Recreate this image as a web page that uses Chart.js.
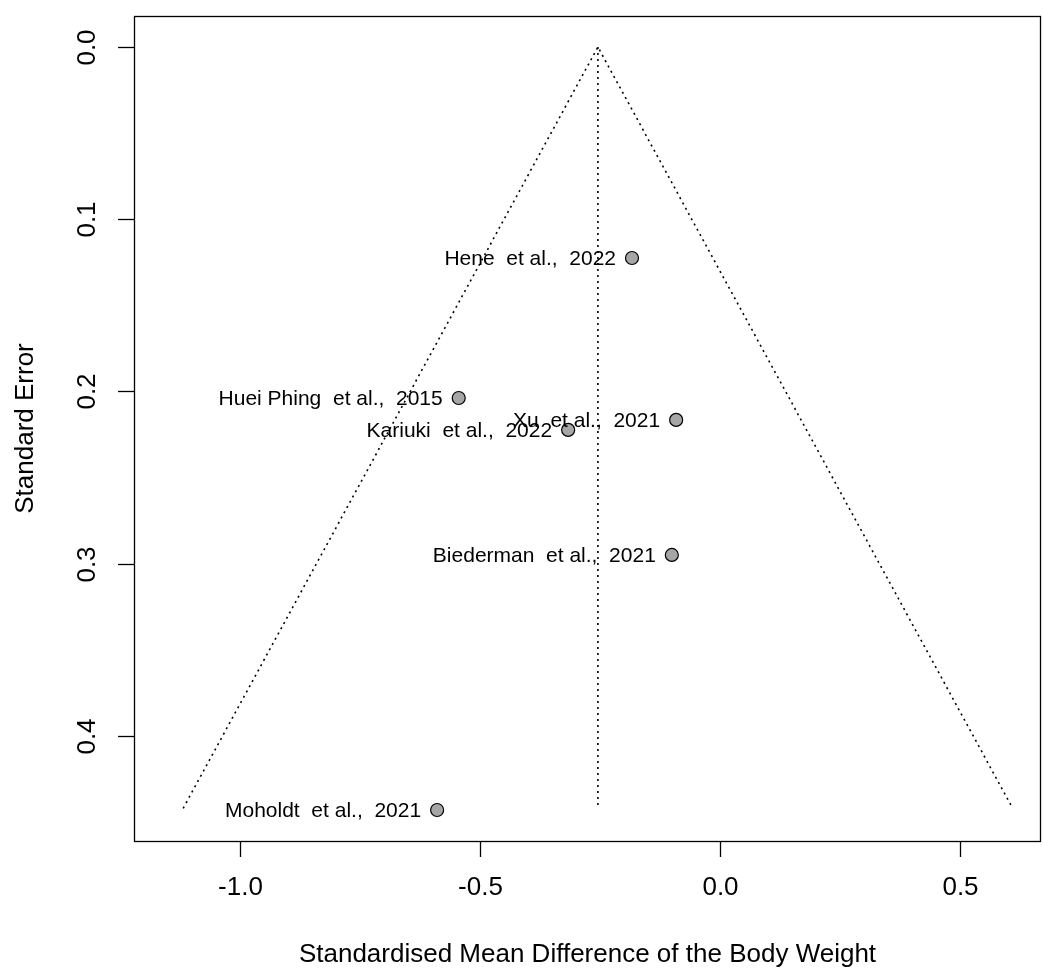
<!DOCTYPE html>
<html>
<head>
<meta charset="utf-8">
<script src="https://cdn.jsdelivr.net/npm/chart.js@4/dist/chart.umd.min.js"></script>
<style>
html,body{margin:0;padding:0;background:#fff;overflow:hidden;width:1043px;height:968px;}
canvas{display:block;width:1043px;height:968px;}
</style>
</head>
<body>
<canvas id="c" width="1043" height="968"></canvas>
<script>
// ---- data ----
const studyLabels = ["Hene  et al.,  2022", "Huei Phing  et al.,  2015", "Xu  et al.,  2021", "Kariuki  et al.,  2022", "Biederman  et al.,  2021", "Moholdt  et al.,  2021"];
const smd = [-0.184, -0.545, -0.092, -0.317, -0.101, -0.590];
const se = [0.1225, 0.2038, 0.2165, 0.2223, 0.2949, 0.443];
const pooledEstimate = -0.255;
const funnelX = [-1.119, -0.255, 0.609];
const funnelY = [0.442, 0.0, 0.442];
const refLineX = [-0.255, -0.255];
const refLineY = [0.0, 0.442];
const xTickValues = [-1.0, -0.5, 0.0, 0.5];
const xTickLabels = ["-1.0", "-0.5", "0.0", "0.5"];
const yTickValues = [0.0, 0.1, 0.2, 0.3, 0.4];
const yTickLabels = ["0.0", "0.1", "0.2", "0.3", "0.4"];
const xTitle = "Standardised Mean Difference of the Body Weight";
const yTitle = "Standard Error";

const FONT = "'Liberation Sans', Arial, Helvetica, sans-serif";

const toPts = (xs, ys) => xs.map((x, i) => ({x: x, y: ys[i]}));

const decorPlugin = {
  id: 'decor',
  afterDatasetsDraw(chart) {
    const ctx = chart.ctx;
    const xs = chart.scales.x, ys = chart.scales.y;
    const a = chart.chartArea;
    ctx.save();
    // study labels
    ctx.fillStyle = '#000';
    ctx.font = '21px ' + FONT;
    ctx.textAlign = 'right';
    ctx.textBaseline = 'middle';
    studyLabels.forEach((lab, i) => {
      const px = xs.getPixelForValue(smd[i]);
      const py = ys.getPixelForValue(se[i]);
      ctx.fillText(lab, px - 16, py + 1);
    });
    // box
    ctx.strokeStyle = '#000';
    ctx.lineWidth = 1.3;
    ctx.setLineDash([]);
    ctx.strokeRect(Math.round(a.left) + 0.5, Math.round(a.top) + 0.5, Math.round(a.right - a.left) - 1, Math.round(a.bottom - a.top));
    // x ticks
    ctx.font = '26px ' + FONT;
    ctx.textAlign = 'center';
    ctx.textBaseline = 'middle';
    xTickValues.forEach((v, i) => {
      const px = Math.round(xs.getPixelForValue(v)) + 0.5;
      ctx.beginPath();
      ctx.moveTo(px, a.bottom);
      ctx.lineTo(px, a.bottom + 16);
      ctx.stroke();
      ctx.fillText(xTickLabels[i], px, a.bottom + 47);
    });
    // y ticks
    yTickValues.forEach((v, i) => {
      const py = Math.round(ys.getPixelForValue(v)) + 0.5;
      ctx.beginPath();
      ctx.moveTo(a.left, py);
      ctx.lineTo(a.left - 16, py);
      ctx.stroke();
      ctx.save();
      ctx.translate(a.left - 46, py);
      ctx.rotate(-Math.PI / 2);
      ctx.fillText(yTickLabels[i], 0, 0);
      ctx.restore();
    });
    // titles
    ctx.fillText(xTitle, (a.left + a.right) / 2, 955);
    ctx.save();
    ctx.translate(26, (a.top + a.bottom) / 2);
    ctx.rotate(-Math.PI / 2);
    ctx.fillText(yTitle, 0, 0);
    ctx.restore();
    ctx.restore();
  }
};

new Chart(document.getElementById('c'), {
  type: 'scatter',
  data: {
    datasets: [
      {
        label: 'funnel',
        data: toPts(funnelX, funnelY),
        showLine: true,
        borderColor: '#000',
        borderWidth: 1.6,
        borderDash: [2, 4],
        pointRadius: 0,
        fill: false,
        order: 3
      },
      {
        label: 'estimate',
        data: toPts(refLineX, refLineY),
        showLine: true,
        borderColor: '#000',
        borderWidth: 1.6,
        borderDash: [2, 4],
        pointRadius: 0,
        fill: false,
        order: 2
      },
      {
        label: 'studies',
        data: toPts(smd, se),
        showLine: false,
        pointRadius: 6.5,
        pointBackgroundColor: '#a6a6a6',
        pointBorderColor: '#000',
        pointBorderWidth: 1.2,
        order: 1
      }
    ]
  },
  options: {
    responsive: false,
    animation: false,
    devicePixelRatio: 1,
    layout: { autoPadding: false, padding: { left: 134, right: 2, top: 16, bottom: 127 } },
    plugins: { legend: { display: false }, tooltip: { enabled: false } },
    scales: {
      x: {
        type: 'linear',
        display: false,
        min: -1.2215, max: 0.6681,
        afterBuildTicks: (s) => { s.ticks = xTickValues.map(v => ({value: v})); }
      },
      y: {
        type: 'linear',
        display: false,
        reverse: true,
        min: -0.018, max: 0.461,
        afterBuildTicks: (s) => { s.ticks = yTickValues.map(v => ({value: v})); }
      }
    }
  },
  plugins: [decorPlugin]
});
</script>
</body>
</html>
